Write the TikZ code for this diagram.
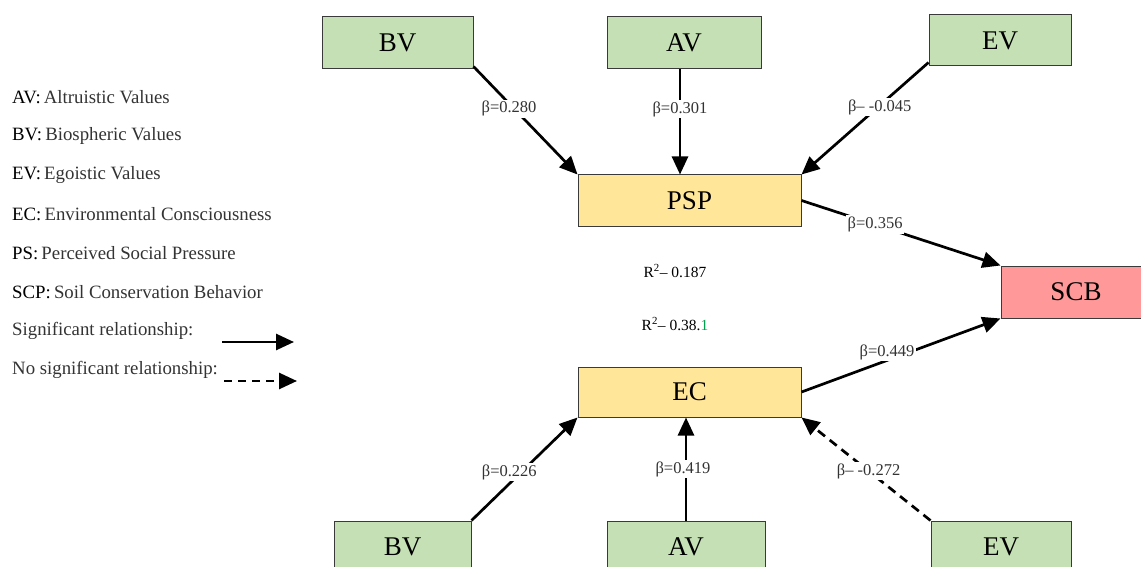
\documentclass[tikz,border=0pt]{standalone}
\usepackage{fontspec}
\setmainfont{Liberation Serif}
\usetikzlibrary{arrows.meta}
\definecolor{gbox}{HTML}{C5E0B4}
\definecolor{ybox}{HTML}{FFE699}
\definecolor{rbox}{HTML}{FF9999}
\definecolor{bord}{HTML}{3A3A3A}
\definecolor{txtg}{HTML}{333333}
\definecolor{grn}{HTML}{00A050}
\tikzset{
  box/.style={draw=bord, line width=1pt, rectangle, inner sep=0pt, font=\fontsize{27}{29}\selectfont},
  gb/.style={box, fill=gbox},
  yb/.style={box, fill=ybox},
  rb/.style={box, fill=rbox},
  conn/.style={line width=2.7pt, -{Triangle[length=18pt,width=16pt]}},
  dconn/.style={conn, dash pattern=on 9pt off 6pt},
  blab/.style={fill=white, inner sep=1.5pt, text=txtg, font=\fontsize{16.5}{18}\selectfont},
  leg/.style={anchor=west, inner sep=0pt, font=\fontsize{18.8}{20}\selectfont},
  rlab/.style={inner sep=0pt, font=\fontsize{15.5}{17}\selectfont},
}
\begin{document}
\begin{tikzpicture}[x=1pt,y=-1pt]
\useasboundingbox (0,0) rectangle (1141,567);
% top value boxes
\node[gb, minimum width=151pt, minimum height=52pt] (bvt) at (397.5,43) {BV};
\node[gb, minimum width=154pt, minimum height=52pt] (avt) at (684,43) {AV};
\node[gb, minimum width=142pt, minimum height=51pt] (evt) at (1000,40.5) {EV};
% mediators
\node[yb, minimum width=223pt, minimum height=51pt] (psp) at (689.5,200.5) {PSP};
\node[yb, minimum width=223pt, minimum height=50pt] (ec) at (689.5,392) {EC};
% outcome
\node[rb, minimum width=150pt, minimum height=52pt] (scb) at (1076,292) {SCB};
% bottom value boxes
\node[gb, minimum width=137pt, minimum height=52pt] (bvb) at (402.5,547) {BV};
\node[gb, minimum width=158pt, minimum height=52pt] (avb) at (686,547) {AV};
\node[gb, minimum width=140pt, minimum height=52pt] (evb) at (1001,547) {EV};
% connectors top
\draw[conn] (bvt.south east) ++(0,-3) -- (psp.north west) node[pos=0.39, blab, xshift=-5pt] {β=0.280};
\draw[conn] (avt.south -| 680,0) -- (psp.north -| 680,0) node[pos=0.38, blab] {β=0.301};
\draw[conn] (evt.south west) ++(0,-4) -- (psp.north east) node[pos=0.40, blab, xshift=2pt] {β– -0.045};
\draw[conn] (psp.east) -- (scb.north west) node[pos=0.37, blab] {β=0.356};
\draw[conn] (ec.east) -- (scb.south west) node[pos=0.43, blab, yshift=8pt] {β=0.449};
% connectors bottom
\draw[conn] (bvb.north east) -- (ec.south west) node[pos=0.47, blab, xshift=-12pt] {β=0.226};
\draw[conn] (avb.north) -- (ec.south -| avb.north) node[pos=0.5, blab, xshift=-3pt] {β=0.419};
\draw[dconn] (evb.north west) -- (ec.south east) node[pos=0.48, blab] {β– -0.272};
% R squared
\node[rlab] (r1) at (675,271) {R\textsuperscript{2}– 0.187};
\node[rlab] (r2) at (675,324) {R\textsuperscript{2}– 0.38.\textcolor{grn}{1}};
% legend
\node[leg] (l1) at (12,97) {AV:\,\textcolor{txtg}{Altruistic Values}};
\node[leg] (l2) at (12,136) {BV:\,\textcolor{txtg}{Biospheric Values}};
\node[leg] (l3) at (12,175) {EV:\,\textcolor{txtg}{Egoistic Values}};
\node[leg] (l4) at (12,214) {EC:\,\textcolor{txtg}{Environmental Consciousness}};
\node[leg] (l5) at (12,253) {PS:\,\textcolor{txtg}{Perceived Social Pressure}};
\node[leg] (l6) at (12,292) {SCP:\,\textcolor{txtg}{Soil Conservation Behavior}};
\node[leg, text=txtg] (l7) at (12,331) {Significant relationship:};
\node[leg, text=txtg] (l8) at (12,370) {No significant relationship:};
\coordinate (s1) at (222,342);
\coordinate (s2) at (294,342);
\coordinate (d1) at (224,381);
\coordinate (d2) at (297,381);
\draw[conn] (s1) -- (s2);
\draw[dconn, dash pattern=on 8pt off 6pt] (d1) -- (d2);
\end{tikzpicture}
\end{document}
